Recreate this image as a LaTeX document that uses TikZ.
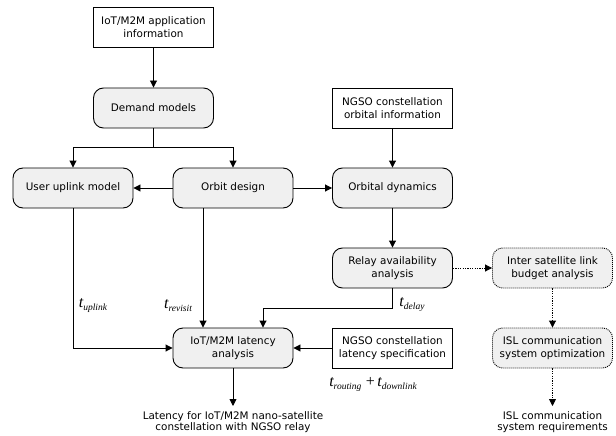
\documentclass[tikz,border=0pt]{standalone}
\usepackage{fontspec}
\setmainfont{DejaVu Sans}
\newfontfamily\tms{Liberation Serif}
\newcommand\tlab[1]{{\tms\itshape\fontsize{16}{16}\selectfont t}\raisebox{-3pt}{\tms\itshape\fontsize{9.5}{9.5}\selectfont #1}}
\usetikzlibrary{arrows.meta}
\begin{document}
\begin{tikzpicture}[x=1pt,y=-1pt,
  every node/.style={font=\fontsize{10.4}{13.5}\selectfont, align=center},
  base/.style={draw, line width=0.9pt, minimum width=120pt, minimum height=40pt, inner sep=1pt},
  infobox/.style={base, rectangle},
  procbox/.style={base, rounded corners=10pt, fill=black!6},
  dotbox/.style={base, rounded corners=10pt, fill=black!6, dash pattern=on 1pt off 1pt},
  outtxt/.style={anchor=north, inner sep=0pt, font=\fontsize{10.4}{11.5}\selectfont},
  lab/.style={inner sep=0pt},
  arr/.style={line width=0.9pt, -{Triangle[length=7pt,width=7pt]}},
  darr/.style={arr, dash pattern=on 1.2pt off 1.2pt}
]
\useasboundingbox (0,0) rectangle (616,436);
\node[infobox] (app) at (153.5,27) {IoT/M2M application\\information};
\node[procbox] (dem) at (153.5,108) {Demand models};
\node[procbox] (uu) at (73,188) {User uplink model};
\node[procbox] (od) at (233,188) {Orbit design};
\node[infobox] (ngso) at (392.5,108) {NGSO constellation\\orbital information};
\node[procbox] (dyn) at (392.5,188) {Orbital dynamics};
\node[procbox] (rel) at (392.5,268) {Relay availability\\analysis};
\node[dotbox] (isl) at (552.5,268) {Inter satellite link\\budget analysis};
\node[dotbox] (opt) at (552.5,348) {ISL communication\\system optimization};
\node[infobox] (spec) at (392.5,348) {NGSO constellation\\latency specification};
\node[procbox] (lat) at (233,348) {IoT/M2M latency\\analysis};
\node[outtxt] (out1) at (233,411) {Latency for IoT/M2M nano-satellite\\constellation with NGSO relay};
\node[outtxt] (out2) at (552.5,411) {ISL communication\\system requirements};
\coordinate (br) at (153.5,147);
\coordinate (dl) at (392.5,308);
\coordinate (e1) at (233,406);
\coordinate (e2) at (552.5,406);

\draw[arr] (app) -- (dem);
\draw[line width=0.9pt] (dem.south) -- (br);
\draw[arr] (br) -| (uu.north);
\draw[arr] (br) -| (od.north);
\draw[arr] (od) -- (uu);
\draw[arr] (od) -- (dyn);
\draw[arr] (ngso) -- (dyn);
\draw[arr] (dyn) -- (rel);
\draw[darr] (rel) -- (isl);
\draw[darr] (isl) -- (opt);
\draw[darr] (opt.south) -- (e2);
\draw[arr] (uu.south) |- (lat.west);
\draw[arr] (od.south -| 203,0) -- (lat.north -| 203,0);
\draw[arr] (rel.south) -- (dl) -| (lat.north -| 263,0);
\draw[arr] (spec) -- (lat);
\draw[arr] (lat.south) -- (e1);

\node[lab] (tu) at (93,306) {\tlab{uplink}};
\node[lab] (tr) at (178,306) {\tlab{revisit}};
\node[lab] (td) at (412,305) {\tlab{delay}};
\node[lab] (trd) at (373,384) {\tlab{routing}\,{\tms\fontsize{16}{16}\selectfont\,+\,}\tlab{downlink}};
\end{tikzpicture}
\end{document}
